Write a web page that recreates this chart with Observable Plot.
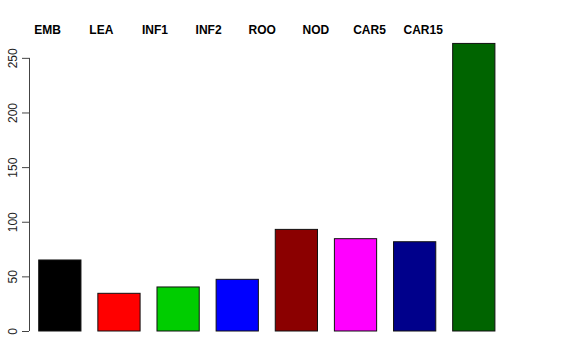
<!DOCTYPE html>
<html><head><meta charset="utf-8">
<script src="https://cdn.jsdelivr.net/npm/d3@7"></script>
<script src="https://cdn.jsdelivr.net/npm/@observablehq/plot@0.6"></script>
<style>body{margin:0;background:#fff}</style>
</head><body><div id="chart"></div>
<script>
const categories = ["EMB","LEA","INF1","INF2","ROO","NOD","CAR5","CAR15"];
const values = [65, 34.5, 40.3, 47.3, 93, 84.5, 81.7, 263.2];
const colors = ["#000000","#FF0000","#00CD00","#0000FF","#8B0000","#FF00FF","#00008B","#006400"];
const yTicks = [0, 50, 100, 150, 200, 250];

// R barplot layout: space between bars 0.4, bar width 1
const space = 0.4, barWidth = 1, labelStep = 1.27, labelStart = 0.6;
const data = categories.map((c, i) => ({
  cat: c, value: values[i], color: colors[i],
  x1: space + i * (space + barWidth),
  x2: space + i * (space + barWidth) + barWidth,
  lx: labelStart + labelStep * i
}));

const xDomain = [0.17, 11.8];
const pxPerUnit = 42.24;
const marginLeft = 29;
const plot = Plot.plot({
  width: 576, height: 360,
  marginLeft,
  marginRight: 576 - marginLeft - (xDomain[1] - xDomain[0]) * pxPerUnit,
  marginTop: 36, marginBottom: 29,
  x: {domain: xDomain, axis: null},
  y: {domain: [0, 270], axis: null},
  style: {fontFamily: "'Liberation Sans', Arial, Helvetica, sans-serif", background: "white"},
  marks: [
    Plot.rectY(data, {x1: "x1", x2: "x2", y: "value", fill: "color", stroke: "#111", strokeWidth: 1}),
    Plot.ruleX([xDomain[0]], {y1: yTicks[0], y2: yTicks[yTicks.length - 1], stroke: "#444"}),
    Plot.axisY({ticks: yTicks, label: null, tickSize: 7, tickPadding: 6, tickRotate: -90, fontSize: 12, stroke: "#444", fill: "#222", textAnchor: "middle", lineAnchor: "bottom"}),
    Plot.text(data, {x: "lx", text: "cat", frameAnchor: "top", lineAnchor: "middle", dy: -6, fontWeight: "bold", fontSize: 12, fill: "black"})
  ]
});
document.getElementById("chart").appendChild(plot);
</script>
</body></html>
